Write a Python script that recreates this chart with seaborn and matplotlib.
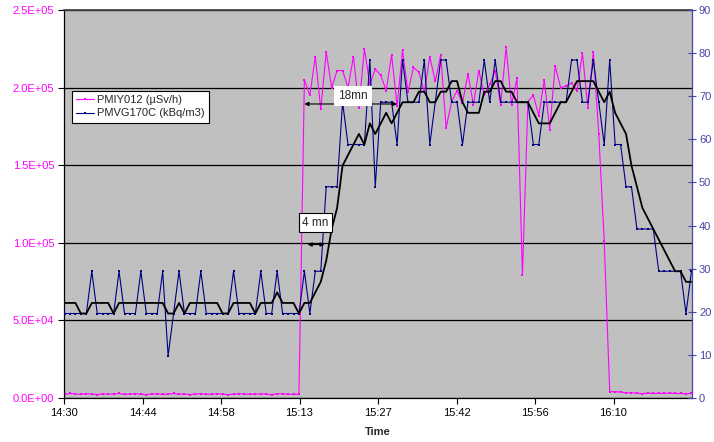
import numpy as np
import pandas as pd
import matplotlib
matplotlib.use('Agg')
import matplotlib.pyplot as plt
from matplotlib.lines import Line2D
import seaborn as sns

# sample times: one reading per minute, minutes after 14:30 (first three fall before the axis start)
times = pd.date_range('2000-01-01 14:27:06', periods=119, freq='min')
start = pd.Timestamp('2000-01-01 14:30:00')

# PMIY012 dose rate (µSv/h), left axis
pmiy012 = [
    2500, 2300, 2700,
    2400, 2900, 2600, 2300, 2800, 2500, 2200, 2700, 2400, 2600,
    2900, 2300, 2500, 2800, 2400, 2200, 2600, 2700, 2300, 2500,
    2900, 2400, 2600, 2200, 2500, 2800, 2300, 2400, 2700, 2500,
    2200, 2400, 2800, 2600, 2300, 2500, 2700, 2400, 2200, 2600,
    2800, 2300, 2500, 2400,
    205000, 195000, 220000, 186000, 223000, 200000, 211000, 211000,
    200000, 220000, 187000, 225000, 202000, 212000, 208000, 198000,
    221000, 188000, 224000, 197000, 213000, 210000, 197000, 220000,
    204000, 221000, 174000, 191000, 198000, 190000, 209000, 189000,
    211000, 195000, 202000, 211000, 189000, 226000, 189000, 206000,
    79000, 191000, 195000, 182000, 205000, 173000, 214000, 200000,
    201000, 203000, 198000, 222000, 187000, 223000, 170000, 101000,
    4100, 4000, 3900, 3300, 3400, 3100, 2800, 3200, 2900, 3000,
    2900, 3200, 2900, 2900, 2800, 2900,
]

# PMVG170C activity (kBq/m3), right axis
pmvg170c = [
    19.6, 19.6, 29.4,
    19.6, 19.6, 19.6, 19.6, 19.6, 29.4, 19.6, 19.6, 19.6, 19.6,
    29.4, 19.6, 19.6, 19.6, 29.4, 19.6, 19.6, 19.6, 29.4, 9.8,
    19.6, 29.4, 19.6, 19.6, 19.6, 29.4, 19.6, 19.6, 19.6, 19.6,
    19.6, 29.4, 19.6, 19.6, 19.6, 19.6, 29.4, 19.6, 19.6, 29.4,
    19.6, 19.6, 19.6, 19.6,
    29.4, 19.6, 29.4, 29.4, 49.0, 49.0, 49.0, 68.6,
    58.8, 58.8, 58.8, 58.8, 78.4, 49.0, 68.6, 68.6,
    68.6, 58.8, 78.4, 68.6, 68.6, 68.6, 78.4, 58.8,
    68.6, 78.4, 78.4, 68.6, 68.6, 58.8, 68.6, 68.6,
    68.6, 78.4, 68.6, 78.4, 68.6, 68.6, 68.6, 68.6,
    68.6, 68.6, 58.8, 58.8, 68.6, 68.6, 68.6, 68.6,
    68.6, 78.4, 78.4, 68.6, 68.6, 78.4, 68.6, 58.8,
    78.4, 58.8, 58.8, 49.0, 49.0, 39.2, 39.2, 39.2, 39.2, 29.4,
    29.4, 29.4, 29.4, 29.4, 19.6, 29.4,
]

tick_labels = ['14:30', '14:44', '14:58', '15:13', '15:27', '15:42', '15:56', '16:10']

df = pd.DataFrame({'time': times, 'PMIY012': pmiy012, 'PMVG170C': pmvg170c})
df['minutes'] = (df['time'] - start).dt.total_seconds() / 60
# 4-period moving average trendline of PMVG170C
df['avg'] = df['PMVG170C'].rolling(4).mean()

sns.set_theme(style='white')
plt.rcParams['font.family'] = ['Liberation Sans', 'DejaVu Sans']

magenta = '#FF00FF'
navy = '#000080'
right_col = '#4646A8'
fs = 8

fig = plt.figure(figsize=(7.14, 4.42), dpi=100)
ax = fig.add_axes([64 / 714, 44 / 442, 628 / 714, 388 / 442])
ax.set_facecolor('#C0C0C0')
ax2 = ax.twinx()

sns.lineplot(data=df, x='minutes', y='PMIY012', ax=ax, color=magenta, lw=0.8,
             marker='s', markersize=1.8, markeredgewidth=0)
sns.lineplot(data=df, x='minutes', y='PMVG170C', ax=ax2, color=navy, lw=0.8,
             marker='s', markersize=2, markeredgewidth=0)
sns.lineplot(data=df.dropna(), x='minutes', y='avg', ax=ax2, color='black', lw=1.3)

ax.set_xlim(0, 115.2)
ax.set_ylim(0, 2.5e5)
ax2.set_ylim(0, 90)

ax.set_xticks(np.arange(len(tick_labels)) * 14.4)
ax.set_xticklabels(tick_labels)
ax.set_yticks(np.arange(0, 2.5e5 + 1, 5e4))
ax.set_yticklabels([f'{v:.1E}' for v in np.arange(0, 2.5e5 + 1, 5e4)])
ax2.set_yticks(np.arange(0, 91, 10))

ax.yaxis.grid(True, color='black', lw=0.9)
ax.xaxis.grid(False)
ax.set_axisbelow(True)

ax.tick_params(axis='y', labelcolor=magenta, color='black', direction='out',
               length=4, width=0.8, labelsize=fs, left=True, pad=3)
ax.tick_params(axis='x', colors='black', direction='out', length=4, width=0.8,
               labelsize=fs, bottom=True, pad=3)
ax2.tick_params(axis='y', labelcolor=right_col, color=right_col, direction='inout',
                length=6, width=0.8, labelsize=fs, right=True, pad=2)

for s in ['left', 'bottom']:
    ax.spines[s].set_color('black')
    ax.spines[s].set_linewidth(0.9)
ax.spines['top'].set_color('#404040')
ax.spines['right'].set_visible(False)
for s in ['left', 'top', 'bottom']:
    ax2.spines[s].set_visible(False)
ax2.spines['right'].set_color(right_col)
ax2.spines['right'].set_linewidth(0.9)

ax.set_xlabel('Time', fontsize=fs, fontweight='bold', labelpad=7)
ax.set_ylabel('')
ax2.set_ylabel('')

handles = [
    Line2D([], [], color=magenta, lw=0.8, marker='s', markersize=2, markeredgewidth=0),
    Line2D([], [], color=navy, lw=0.8, marker='s', markersize=2, markeredgewidth=0),
]
leg = ax2.legend(handles, ['PMIY012 (µSv/h)', 'PMVG170C (kBq/m3)'],
                 loc='upper left', bbox_to_anchor=(0.012, 0.792), fontsize=fs,
                 frameon=True, fancybox=False, edgecolor='black', framealpha=1,
                 handlelength=1.6, handletextpad=0.3, borderpad=0.4,
                 labelspacing=0.3, borderaxespad=0)
leg.get_frame().set_linewidth(0.8)

arrow = dict(arrowstyle='<|-|>', color='black', lw=0.8, mutation_scale=6,
             shrinkA=0, shrinkB=0)
ax2.annotate('', xy=(61.1, 68.2), xytext=(44.1, 68.2), arrowprops=arrow, zorder=6)
ax2.text(53.0, 70.0, '18mn', ha='center', va='center', fontsize=fs + 0.5, zorder=7,
         bbox=dict(boxstyle='square,pad=0.35', fc='white', ec='none'))
ax2.annotate('', xy=(47.8, 35.6), xytext=(44.7, 35.6), arrowprops=arrow, zorder=6)
ax2.text(46.1, 40.7, '4 mn', ha='center', va='center', fontsize=fs + 0.5, zorder=7,
         bbox=dict(boxstyle='square,pad=0.3', fc='white', ec='black', lw=0.8))

fig.savefig('out.png', dpi=100)
